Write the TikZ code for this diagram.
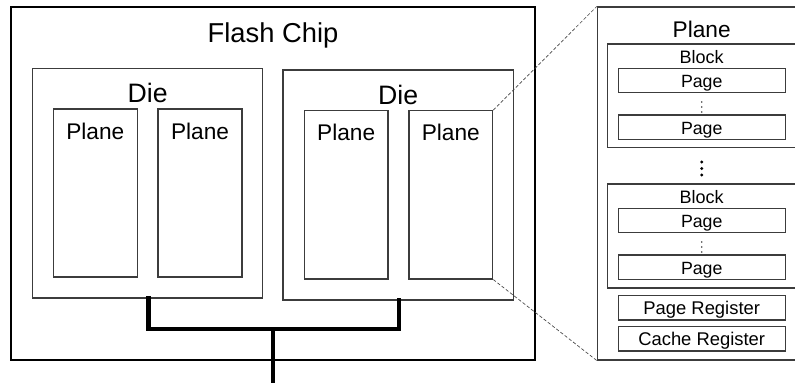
\documentclass[tikz,border=0pt]{standalone}
\usepackage{fontspec}
\setmainfont{Liberation Sans}
\usetikzlibrary{fit,positioning}
\definecolor{ChipLine}{RGB}{60,60,60}
\definecolor{DashLine}{RGB}{70,70,70}

\begin{document}
\begin{tikzpicture}[
x=0.75pt,y=-0.75pt,
box/.style={
draw=ChipLine,
line width=0.8pt,
inner sep=0pt
},
lbl/.style={
anchor=base,
inner sep=0pt
},
bus/.style={
line width=3.5pt,
line cap=rect
},
zoomline/.style={
draw=DashLine,
line width=0.5pt,
dash pattern=on 2.5pt off 1.5pt
}
]
\useasboundingbox (0,0) rectangle (795,382);

% chip with two dies
\node[box, draw=black, fit={(11,7) (535,360)}] (chip) {};
\node[lbl, font=\fontsize{20.5}{24}\selectfont] (chipt) at (273,42.5) {Flash Chip};

\node[box, fit={(32.5,68.7) (262.7,298)}] (d1) {};
\node[lbl, font=\fontsize{20}{24}\selectfont] (d1t) at (147.6,102.7) {Die};
\node[box, fit={(53.3,109) (137.3,277)}] (p1) {};
\node[lbl, font=\fontsize{17}{20}\selectfont] (p1t) at (95.3,139) {Plane};
\node[box, fit={(158,109) (242,277)}] (p2) {};
\node[lbl, font=\fontsize{17}{20}\selectfont] (p2t) at (200,139) {Plane};

\node[box, fit={(283,70) (513.3,300)}] (d2) {};
\node[lbl, font=\fontsize{20}{24}\selectfont] (d2t) at (398.2,104.3) {Die};
\node[box, fit={(304.3,110.7) (388,279)}] (p3) {};
\node[lbl, font=\fontsize{17}{20}\selectfont] (p3t) at (346.2,140.5) {Plane};
\node[box, fit={(409,110.7) (492.7,279)}] (p4) {};
\node[lbl, font=\fontsize{17}{20}\selectfont] (p4t) at (450.8,140.5) {Plane};

% bus
\coordinate (j1) at (148.3,329);
\coordinate (j2) at (399,329);
\coordinate (j0) at (273,329);
\coordinate (out) at (273,390);
\draw[bus] (d1.south -| j1) -- (j1) -- (j2) -- (d2.south -| j2);
\draw[bus] (j0) -- (out);

% zoomed plane
\node[box, fit={(597.3,7) (806,360)}] (pl) {};
\node[lbl, font=\fontsize{17}{20}\selectfont] (plt) at (701.7,37.7) {Plane};

\node[box, fit={(607.7,44) (796,147.7)}] (b1) {};
\node[lbl, font=\fontsize{13.5}{16}\selectfont] (b1t) at (701.7,63.3) {Block};
\node[box, fit={(618.3,68.3) (785.7,92.7)}] (g1) {};
\node[lbl, font=\fontsize{13.3}{16}\selectfont] (g1t) at (701.7,87.3) {Page};
\node[box, fit={(618.3,115) (785.7,139.3)}] (g2) {};
\node[lbl, font=\fontsize{13.3}{16}\selectfont] (g2t) at (701.7,134) {Page};

\node[box, fit={(607.7,184) (796,288)}] (b2) {};
\node[lbl, font=\fontsize{13.5}{16}\selectfont] (b2t) at (701.7,203.3) {Block};
\node[box, fit={(618.3,208.3) (785.7,232.7)}] (g3) {};
\node[lbl, font=\fontsize{13.3}{16}\selectfont] (g3t) at (701.7,227.3) {Page};
\node[box, fit={(618.3,255) (785.7,279.3)}] (g4) {};
\node[lbl, font=\fontsize{13.3}{16}\selectfont] (g4t) at (701.7,274) {Page};

\node[box, fit={(618.3,295.3) (785.7,320)}] (r1) {};
\node[lbl, font=\fontsize{13.8}{16}\selectfont] (r1t) at (701.7,314) {Page Register};
\node[box, fit={(618.3,326.7) (785.7,351)}] (r2) {};
\node[lbl, font=\fontsize{13.8}{16}\selectfont] (r2t) at (701.7,345.7) {Cache Register};

% dots
\foreach \y in {102,107,112,242,247,252}
\fill[black!75] (701.7,\y) circle (0.6pt);
\foreach \y in {162,168.5,175}
\fill (701.7,\y) circle (1.2pt);

\draw[zoomline] (p4.north east) -- (pl.north west);
\draw[zoomline] (p4.south east) -- (pl.south west);
\end{tikzpicture}
\end{document}
